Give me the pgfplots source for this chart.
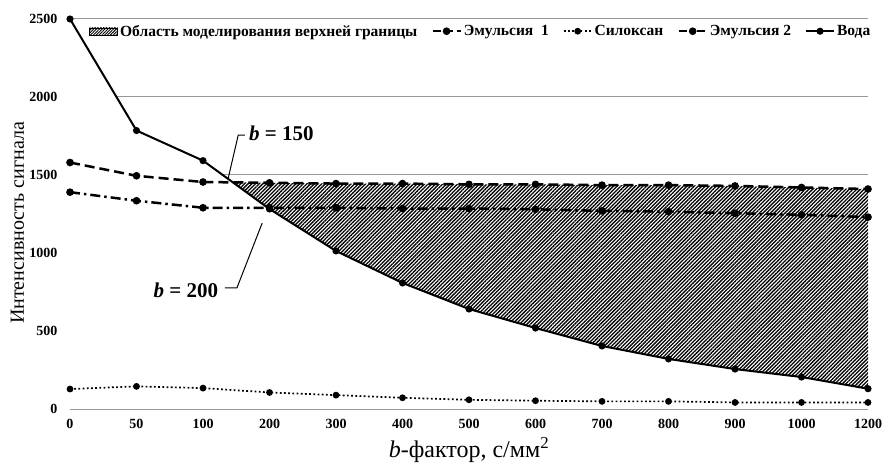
\documentclass[border=0pt]{standalone}
\usepackage{pgfplots}
\pgfplotsset{compat=1.18}
\usepackage{fontspec}
\setmainfont{Liberation Serif}
\usetikzlibrary{patterns.meta}
\begin{document}
\begin{tikzpicture}
\begin{axis}[
  scale only axis, width=798pt, height=390pt,
  xmin=0, xmax=12, ymin=0, ymax=2500,
  clip=false,
  xtick={0,...,12},
  xticklabels={0,50,100,200,300,400,500,600,700,800,900,1000,1200},
  ytick={0,500,...,2500},
  ymajorgrids, major grid style={draw=black!40, line width=1pt},
  axis line style={draw=none},
  major tick length=0pt,
  /pgf/number format/assume math mode=true,
  /pgf/number format/1000 sep={},
  ticklabel style={font=\fontsize{14}{15}\selectfont\bfseries},
  yticklabel style={xshift=-9pt},
  xticklabel style={yshift=-7pt},
  xlabel={\textit{b}-фактор, с/мм\textsuperscript{2}},
  ylabel={Интенсивность сигнала},
  xlabel style={at={(axis description cs:0.5,-0.105)}, anchor=center, font=\fontsize{24}{26}\selectfont},
  ylabel style={at={(axis description cs:-0.066,0.477)}, anchor=center, font=\fontsize{20}{22}\selectfont},
  legend columns=5,
  legend style={at={(rel axis cs:0.0226,0.993)}, anchor=north west, draw=none, fill=white,
    inner sep=1pt, font=\fontsize{15.5}{16.5}\selectfont\bfseries,
    /tikz/every even column/.append style={column sep=12pt}},
  legend cell align=left,
  legend image code/.code={\draw[mark repeat=2,mark phase=2,#1] plot coordinates {(0pt,0pt) (14pt,0pt) (28pt,0pt)};},
]
% white area below the upper curves (hides grid lines)
\addplot[draw=none, fill=white, forget plot] coordinates {
 (0,2500)(1,1785)(2,1592)(2.45,1453)(3,1450)(4,1445)(5,1445)(6,1440)(7,1440)(8,1435)(9,1435)(10,1430)(11,1420)(12,1410)
 (12,8)(0,8)} -- cycle;
% hatched modelling region
\addplot[draw=none, pattern={Lines[angle=45,distance=2.6pt,line width=1.3pt]}, forget plot] coordinates {
 (2.45,1453)(3,1450)(4,1445)(5,1445)(6,1440)(7,1440)(8,1435)(9,1435)(10,1430)(11,1420)(12,1410)
 (12,130)(11,205)(10,256)(9,321)(8,404)(7,519)(6,641)(5,808)(4,1013)(3,1282)} -- cycle;
% Emulsion 1
\addplot[black, line width=2.5pt, dash pattern=on 10pt off 5pt, mark=*, mark size=2.5pt, mark options={solid}, forget plot] coordinates {
 (0,1580)(1,1495)(2,1455)(3,1450)(4,1445)(5,1445)(6,1440)(7,1440)(8,1435)(9,1435)(10,1430)(11,1420)(12,1410)};
% Siloxane
\addplot[black, line width=1.7pt, dash pattern=on 1.8pt off 2.4pt, mark=*, mark size=2.5pt, mark options={solid}, forget plot] coordinates {
 (0,128)(1,145)(2,134)(3,106)(4,89)(5,72)(6,59)(7,53)(8,49)(9,49)(10,42)(11,42)(12,42)};
% Emulsion 2
\addplot[black, line width=2.5pt, dash pattern=on 10pt off 4pt on 2.5pt off 4pt, mark=*, mark size=2.5pt, mark options={solid}, forget plot] coordinates {
 (0,1390)(1,1335)(2,1290)(3,1290)(4,1290)(5,1285)(6,1285)(7,1280)(8,1270)(9,1265)(10,1255)(11,1245)(12,1230)};
% Water
\addplot[black, line width=2pt, mark=*, mark size=2.5pt, forget plot] coordinates {
 (0,2500)(1,1785)(2,1592)(3,1282)(4,1013)(5,808)(6,641)(7,519)(8,404)(9,321)(10,256)(11,205)(12,130)};
% light axis line at zero
\addplot[black!40, line width=1pt, forget plot] coordinates {(0,0)(12,0)};

\addlegendimage{legend image code/.code={\fill[pattern={Lines[angle=45,distance=2pt,line width=0.9pt]}] (0pt,-3.5pt) rectangle (28pt,3.5pt);}}
\addlegendentry{Область моделирования верхней границы}
\addlegendimage{black, line width=2.5pt, dash pattern=on 8pt off 4pt, mark=*, mark size=2.5pt, mark options={solid}}
\addlegendentry{Эмульсия\ \ 1}
\addlegendimage{black, line width=1.7pt, dash pattern=on 1.8pt off 2.4pt, mark=*, mark size=2.5pt, mark options={solid}}
\addlegendentry{Силоксан}
\addlegendimage{black, line width=2.5pt, dash pattern=on 8pt off 4pt on 2.5pt off 4pt, mark=*, mark size=2.5pt, mark options={solid}}
\addlegendentry{Эмульсия 2}
\addlegendimage{black, line width=2pt, mark=*, mark size=2.5pt}
\addlegendentry{Вода}

% annotations
\draw[line width=1pt] (axis cs:2.63,1756) -- (axis cs:2.53,1756) -- (axis cs:2.38,1481);
\node[anchor=west, inner sep=0pt, font=\fontsize{21}{22}\selectfont\bfseries] at (axis cs:2.69,1769) {\textit{b} = 150};
\draw[line width=1pt] (axis cs:2.33,776) -- (axis cs:2.51,776) -- (axis cs:2.89,1192);
\node[anchor=east, inner sep=0pt, font=\fontsize{21}{22}\selectfont\bfseries] at (axis cs:2.23,763) {\textit{b} = 200};

\coordinate (ll) at (rel axis cs:0,0);
\coordinate (ur) at (rel axis cs:1,1);
\end{axis}
\pgfresetboundingbox
\path ([shift={(-70pt,-56pt)}]ll) rectangle ([shift={(14pt,19pt)}]ur);
\end{tikzpicture}
\end{document}
